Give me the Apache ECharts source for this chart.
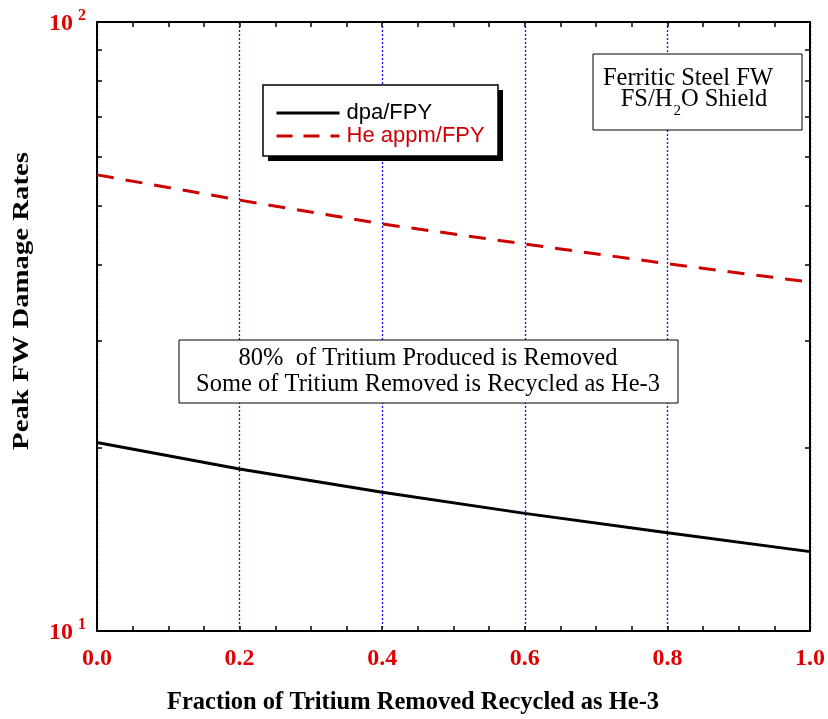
<!DOCTYPE html>
<html>
<head>
<meta charset="utf-8">
<script src="https://cdn.jsdelivr.net/npm/echarts@6/dist/echarts.min.js"></script>
<style>html,body{margin:0;padding:0;background:#fff;overflow:hidden;}#c{width:828px;height:719px;}</style>
</head>
<body>
<div id="c"></div>
<script>
const fractions = [0.0, 0.2, 0.4, 0.6, 0.8, 1.0];
const dpaFPY = [20.4, 18.45, 16.9, 15.6, 14.5, 13.5];
const heAppmFPY = [56.1, 51.0, 46.6, 43.2, 40.1, 37.4];
const xTickLabels = ['0.0', '0.2', '0.4', '0.6', '0.8', '1.0'];
const yMajorTicks = [10, 100];
const yAllTicks = [10, 20, 30, 40, 50, 60, 70, 80, 90, 100];

const chart = echarts.init(document.getElementById('c'));
const tnr = '"Liberation Serif", "Times New Roman", serif';
const sans = '"Liberation Sans", Arial, sans-serif';

const option = {
  animation: false,
  grid: {left: 97, right: 16, top: 22, bottom: 88, containLabel: false},
  xAxis: [{
    type: 'value', min: 0, max: 1, interval: 0.2, position: 'bottom',
    axisLine: {show: true, onZero: false, lineStyle: {color: '#000', width: 2}},
    axisTick: {show: true, inside: true, length: 5, lineStyle: {color: '#000', width: 1.5}},
    minorTick: {show: true, splitNumber: 4, length: 5, lineStyle: {color: '#000', width: 1.5}},
    axisLabel: {fontFamily: tnr, fontWeight: 'bold', fontSize: 24, color: '#e00000', margin: 16,
      formatter: (v) => xTickLabels[Math.round(v / 0.2)]},
    splitLine: {show: true, lineStyle: {color: '#1010ff', type: [2, 2], width: 1.3}}
  }, {
    type: 'value', min: 0, max: 1, interval: 0.2, position: 'top',
    axisLine: {show: true, onZero: false, lineStyle: {color: '#000', width: 2}},
    axisTick: {show: true, inside: true, length: 5, lineStyle: {color: '#000', width: 1.5}},
    minorTick: {show: true, splitNumber: 4, length: 5, lineStyle: {color: '#000', width: 1.5}},
    axisLabel: {show: false}, splitLine: {show: false}
  }],
  yAxis: [{
    type: 'log', logBase: 10, min: 10, max: 100, position: 'left',
    axisLine: {show: true, onZero: false, lineStyle: {color: '#000', width: 2}},
    axisTick: {show: true, inside: true, length: 5, customValues: yAllTicks, lineStyle: {color: '#000', width: 1.5}},
    axisLabel: {customValues: yMajorTicks, margin: 11,
      formatter: (v) => '{b|10}{s|' + Math.round(Math.log10(v)) + '}',
      rich: {
        b: {fontFamily: tnr, fontWeight: 'bold', fontSize: 24, color: '#e00000', verticalAlign: 'bottom'},
        s: {fontFamily: tnr, fontWeight: 'bold', fontSize: 16, color: '#e00000', verticalAlign: 'top', padding: [0, 0, 12, 5]}
      }},
    splitLine: {show: false}
  }, {
    type: 'log', logBase: 10, min: 10, max: 100, position: 'right',
    axisLine: {show: true, onZero: false, lineStyle: {color: '#000', width: 2}},
    axisTick: {show: true, inside: true, length: 5, customValues: yAllTicks, lineStyle: {color: '#000', width: 1.5}},
    axisLabel: {show: false}, splitLine: {show: false}
  }],
  legend: {
    orient: 'vertical', left: 263, top: 85, z: 20,
    padding: [17, 14, 10, 12], itemGap: 1,
    itemWidth: 63, itemHeight: 14,
    itemStyle: {opacity: 0},
    textStyle: {fontFamily: sans, fontSize: 22, padding: [0, 0, 0, 2]},
    data: [
      {name: 'dpa/FPY', textStyle: {color: '#000'}, lineStyle: {width: 3, color: '#000'}},
      {name: 'He appm/FPY', textStyle: {color: '#cc0000'}, lineStyle: {width: 3, color: '#cc0000', type: [16, 11]}}
    ]
  },
  series: [{
    name: 'dpa/FPY', type: 'line', xAxisIndex: 0, yAxisIndex: 0,
    data: fractions.map((f, i) => [f, dpaFPY[i]]),
    showSymbol: false, symbol: 'none', smooth: false,
    lineStyle: {color: '#000', width: 3},
    itemStyle: {color: '#000'}
  }, {
    name: 'He appm/FPY', type: 'line', xAxisIndex: 0, yAxisIndex: 0,
    data: fractions.map((f, i) => [f, heAppmFPY[i]]),
    showSymbol: false, symbol: 'none', smooth: false,
    lineStyle: {color: '#cc0000', width: 3, type: [17, 12]},
    itemStyle: {color: '#cc0000'}
  }],
  graphic: [
    {type: 'text', x: 22, y: 301, rotation: Math.PI / 2, scaleX: 1.25, z: 11, style: {text: 'Peak FW Damage Rates', fontFamily: tnr, fontWeight: 'bold', fontSize: 23, fill: '#000', align: 'center', verticalAlign: 'middle'}},
    {type: 'text', x: 413, y: 703, z: 11, style: {text: 'Fraction of Tritium Removed Recycled as He-3', fontFamily: tnr, fontWeight: 'bold', fontSize: 24.5, fill: '#000', align: 'center', verticalAlign: 'middle'}},
    {type: 'rect', shape: {x: 268, y: 90, width: 235, height: 71}, style: {fill: '#000', stroke: null}, z: 10},
    {type: 'rect', shape: {x: 263, y: 85, width: 235, height: 71}, style: {fill: '#fff', stroke: '#000', lineWidth: 1.5}, z: 10},
    {type: 'rect', shape: {x: 593, y: 54, width: 209, height: 76}, style: {fill: '#fff', stroke: '#000', lineWidth: 1}, z: 10},
    {type: 'text', x: 688, y: 79, z: 11, style: {text: 'Ferritic Steel FW', fontFamily: tnr, fontSize: 24.5, fill: '#000', align: 'center', verticalAlign: 'middle'}},
    {type: 'text', x: 694, y: 100, z: 11, style: {
      text: '{n|FS/H}{sub|2}{n|O Shield}', align: 'center', verticalAlign: 'middle',
      rich: {n: {fontFamily: tnr, fontSize: 24.5, fill: '#000'}, sub: {fontFamily: tnr, fontSize: 15, fill: '#000', padding: [22, 0, 0, 1]}}
    }},
    {type: 'rect', shape: {x: 179, y: 340, width: 499, height: 63}, style: {fill: '#fff', stroke: '#000', lineWidth: 1}, z: 10},
    {type: 'text', x: 428, y: 359, z: 11, style: {text: '80%  of Tritium Produced is Removed', fontFamily: tnr, fontSize: 24.5, fill: '#000', align: 'center', verticalAlign: 'middle'}},
    {type: 'text', x: 428, y: 385, z: 11, style: {text: 'Some of Tritium Removed is Recycled as He-3', fontFamily: tnr, fontSize: 24.5, fill: '#000', align: 'center', verticalAlign: 'middle'}}
  ]
};
chart.setOption(option);
</script>
</body>
</html>
